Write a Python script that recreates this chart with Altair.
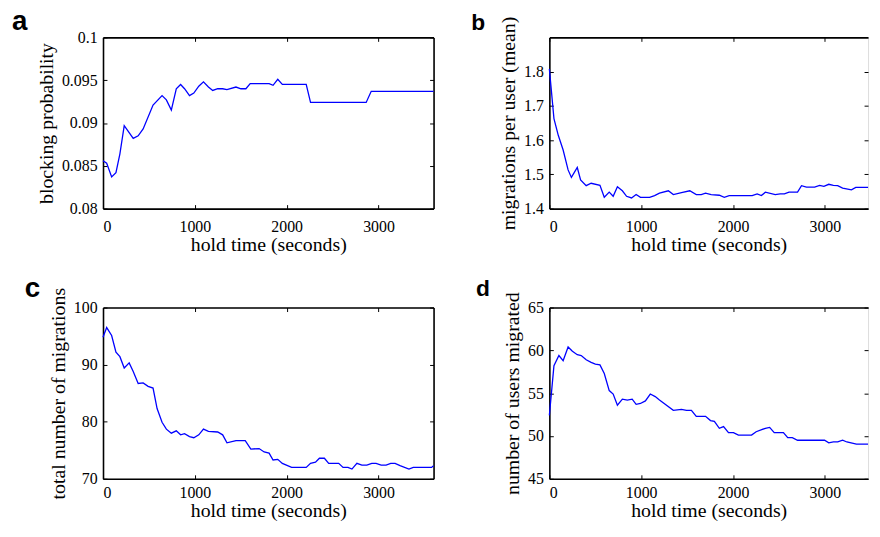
import altair as alt
import pandas as pd

# ---------------- data ----------------
a_t = [0, 40, 94, 141, 184, 231, 329, 383, 437, 545, 643, 690, 744, 798, 845, 888, 942, 989,
       1043, 1094, 1148, 1195, 1249, 1303, 1350, 1448, 1502, 1556, 1603, 1809, 1852, 1903,
       1953, 2213, 2260, 2866, 2921, 3600]
a_v = [0.0856, 0.0853, 0.0837, 0.0842, 0.0864, 0.0897, 0.0882, 0.0885, 0.0893, 0.0921,
       0.0932, 0.0927, 0.0915, 0.0940, 0.0945, 0.0940, 0.0932, 0.0935, 0.0943, 0.0948,
       0.0942, 0.0938, 0.0940, 0.0940, 0.0939, 0.0942, 0.0940, 0.0940, 0.0946, 0.0946,
       0.0944, 0.0951, 0.0945, 0.0945, 0.0924, 0.0924, 0.0937, 0.0937]

b_t = [0, 50, 97, 150, 204, 240, 304, 340, 401, 455, 551, 598, 652, 695, 741, 795, 841, 895,
       945, 992, 1092, 1146, 1199, 1296, 1350, 1439, 1529, 1600, 1654, 1701, 1762, 1851, 1905,
       1958, 2209, 2263, 2309, 2352, 2460, 2514, 2560, 2610, 2703, 2746, 2800, 2889, 2943,
       2990, 3043, 3093, 3140, 3194, 3290, 3337, 3600]
b_v = [1.808, 1.663, 1.614, 1.571, 1.513, 1.491, 1.520, 1.484, 1.467, 1.474, 1.468, 1.433,
       1.448, 1.436, 1.464, 1.452, 1.436, 1.431, 1.441, 1.433, 1.433, 1.438, 1.445, 1.452,
       1.441, 1.447, 1.452, 1.441, 1.441, 1.445, 1.441, 1.439, 1.433, 1.438, 1.438, 1.443,
       1.438, 1.448, 1.441, 1.443, 1.443, 1.448, 1.448, 1.467, 1.463, 1.463, 1.468, 1.465,
       1.471, 1.468, 1.467, 1.460, 1.455, 1.462, 1.462]

c_t = [0, 40, 94, 141, 184, 231, 285, 329, 383, 437, 491, 545, 589, 643, 690, 744, 798, 845,
       888, 942, 989, 1043, 1094, 1148, 1249, 1303, 1350, 1448, 1549, 1610, 1700, 1755, 1809,
       1852, 1903, 1953, 2054, 2213, 2260, 2314, 2357, 2411, 2458, 2567, 2614, 2668, 2711,
       2765, 2819, 2873, 2927, 2974, 3029, 3083, 3134, 3181, 3235, 3332, 3379, 3578, 3600]
c_v = [94.8, 96.5, 95.1, 92.2, 91.4, 89.4, 90.3, 88.8, 86.7, 86.8, 86.2, 85.9, 82.3, 79.9,
       78.7, 78.0, 78.4, 77.7, 77.9, 77.4, 77.2, 77.7, 78.7, 78.3, 78.2, 77.7, 76.3, 76.7,
       76.7, 75.2, 75.3, 74.7, 74.5, 73.3, 73.4, 72.7, 72.0, 72.0, 72.7, 72.9, 73.6, 73.6,
       72.7, 72.7, 72.0, 72.0, 71.7, 72.7, 72.4, 72.4, 72.7, 72.7, 72.4, 72.4, 72.7, 72.7,
       72.3, 71.7, 72.0, 72.0, 72.3]

d_t = [0, 50, 104, 150, 204, 251, 304, 347, 401, 455, 501, 551, 598, 652, 695, 741, 795, 849,
       902, 945, 992, 1046, 1099, 1153, 1199, 1350, 1439, 1493, 1547, 1600, 1701, 1755, 1797,
       1851, 1897, 1951, 2005, 2059, 2202, 2252, 2352, 2399, 2449, 2549, 2596, 2646, 2703,
       2997, 3043, 3093, 3140, 3194, 3240, 3344, 3600]
d_v = [52.4, 58.2, 59.4, 58.8, 60.4, 59.9, 59.5, 59.4, 58.9, 58.6, 58.4, 58.3, 57.3, 55.3,
       54.9, 53.6, 54.3, 54.2, 54.3, 53.7, 53.8, 54.1, 54.9, 54.6, 54.2, 53.0, 53.1, 53.0,
       53.0, 52.3, 52.3, 51.8, 51.7, 50.9, 51.1, 50.4, 50.4, 50.1, 50.1, 50.5, 50.9, 51.0,
       50.4, 50.4, 49.8, 49.8, 49.5, 49.5, 49.2, 49.3, 49.3, 49.5, 49.3, 49.05, 49.05]

x_ticks = [0, 1000, 2000, 3000]
a_ticks = [0.08, 0.085, 0.09, 0.095, 0.1]
b_ticks = [1.4, 1.5, 1.6, 1.7, 1.8]
c_ticks = [70, 80, 90, 100]
d_ticks = [45, 50, 55, 60, 65]

# ---------------- styling ----------------
SERIF = "Liberation Serif"
SANS = "Liberation Sans"
H = 173
W_L = 334
W_R = 322
X_TITLE = "hold time (seconds)"


def panel(t, v, letter, lsize, ytitle, ydom, yvals, yfmt, width, xmax, lx, ly,
          right_border, xlabpad):
    df = pd.DataFrame({"t": t, "v": v})
    xs = alt.Scale(domain=[0, xmax], nice=False, zero=False, clamp=True)
    ys = alt.Scale(domain=ydom, nice=False, zero=False)
    txt = dict(labelFont=SERIF, labelFontSize=16, labelColor="black",
               titleFont=SERIF, titleFontSize=20, titleFontWeight="normal",
               titleColor="black", grid=False)
    main = alt.Chart(df).mark_line(color="#0000ff", strokeWidth=1.3).encode(
        x=alt.X("t:Q", scale=xs,
                axis=alt.Axis(values=x_ticks, format="d", title=X_TITLE, ticks=False,
                              domainColor="black", domainWidth=1.6, labelPadding=xlabpad,
                              titlePadding=0, **txt)),
        y=alt.Y("v:Q", scale=ys,
                axis=alt.Axis(values=yvals, format=yfmt, title=ytitle, ticks=False,
                              domainColor="black", domainWidth=1.6, labelPadding=6,
                              titlePadding=5, **txt)),
    )
    tk = dict(labels=False, title=None, grid=False, ticks=True, tickSize=4,
              tickColor="black", tickWidth=1)
    inner1 = alt.Chart(df).mark_line(strokeOpacity=0).encode(
        x=alt.X("t:Q", scale=xs,
                axis=alt.Axis(orient="top", offset=-H, values=x_ticks, domain=False, **tk)),
        y=alt.Y("v:Q", scale=ys,
                axis=alt.Axis(orient="right", offset=-width, values=yvals, domain=False, **tk)),
    )
    inner2 = alt.Chart(df).mark_line(strokeOpacity=0).encode(
        x=alt.X("t:Q", scale=xs,
                axis=alt.Axis(orient="bottom", offset=-H, values=x_ticks, domain=True,
                              domainColor="black", domainWidth=1.6, **tk)),
        y=alt.Y("v:Q", scale=ys,
                axis=alt.Axis(orient="left", offset=-width, values=yvals, domain=right_border,
                              domainColor="black", domainWidth=1.6, **tk)),
    )
    lab = alt.Chart(pd.DataFrame({"k": [letter]})).mark_text(
        font=SANS, fontSize=lsize, fontWeight="bold", color="black",
        align="left", baseline="alphabetic"
    ).encode(text="k:N", x=alt.value(lx), y=alt.value(ly))
    return alt.layer(main, inner1, inner2, lab).resolve_axis(
        x="independent", y="independent"
    ).properties(width=width, height=H)


XMAX_R = 3600 * W_R / W_L
pa = panel(a_t, a_v, "a", 28, "blocking probability", [0.08, 0.1], a_ticks, "~g",
           W_L, 3600, -92, -7, True, 10)
pb = panel(b_t, b_v, "b", 23, "migrations per user (mean)", [1.4, 1.9], b_ticks, "~g",
           W_R, XMAX_R, -79, -7, False, 10)
pc = panel(c_t, c_v, "c", 28, "total number of migrations", [70, 100], c_ticks, "d",
           W_L, 3600, -79, -11, True, 6)
pd_ = panel(d_t, d_v, "d", 23, "number of users migrated", [45, 65], d_ticks, "d",
            W_R, XMAX_R, -74, -12, False, 6)

chart = alt.concat(
    pa, pb, pc, pd_, columns=2,
    spacing={"row": 100, "column": 117}, bounds="flush", align="each"
).properties(
    padding={"left": 3, "top": -3, "right": 0, "bottom": 0}
).configure_view(stroke=None).configure(background="white")

chart.save("out.html", embed_options={"renderer": "svg", "actions": False})
